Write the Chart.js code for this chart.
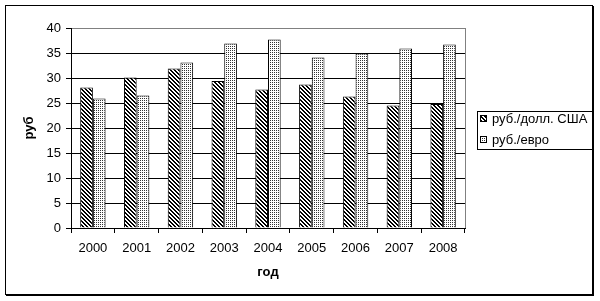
<!DOCTYPE html>
<html>
<head>
<meta charset="utf-8">
<script src="https://cdn.jsdelivr.net/npm/chart.js@4.4.1/dist/chart.umd.min.js"></script>
<style>
    html, body { margin: 0; padding: 0; background: #fff; }
</style>
</head>
<body>
<canvas id="rateChart" width="600" height="301"></canvas>
<script>
// Data
const years = ["2000", "2001", "2002", "2003", "2004", "2005", "2006", "2007", "2008"];
const usdRates = [28.1, 30.1, 31.9, 29.4, 27.7, 28.7, 26.3, 24.5, 24.8];
const euroRates = [25.9, 26.5, 33.1, 36.9, 37.7, 34.1, 34.9, 35.9, 36.7];
const seriesNames = ["руб./долл. США", "руб./евро"];

Chart.defaults.font.family = "'Liberation Sans', Arial, sans-serif";
Chart.defaults.font.size = 13;
Chart.defaults.color = "#000";

// Diagonal hatch, like the old Excel "\\\" fill
function makeHatch() {
    const c = document.createElement("canvas");
    c.width = 4; c.height = 4;
    const g = c.getContext("2d");
    g.fillStyle = "#fff";
    g.fillRect(0, 0, 4, 4);
    g.fillStyle = "#000";
    for (let i = 0; i < 4; i++) {
        g.fillRect(i, i, 2, 1);
    }
    g.fillRect(0, 3, 1, 1);
    return g.createPattern(c, "repeat");
}

// Fine dotted fill
function makeDots() {
    const c = document.createElement("canvas");
    c.width = 2; c.height = 2;
    const g = c.getContext("2d");
    g.fillStyle = "#fff";
    g.fillRect(0, 0, 2, 2);
    g.fillStyle = "#333";
    g.fillRect(0, 0, 1, 1);
    return g.createPattern(c, "repeat");
}

const hatch = makeHatch();
const dots = makeDots();

// Outer frame, gray plot border and the legend box
const decorPlugin = {
    id: "decor",
    afterDraw(chart) {
        const ctx = chart.ctx;
        const area = chart.chartArea;
        ctx.save();

        // right border of the plot area
        ctx.strokeStyle = "#808080";
        ctx.lineWidth = 1;
        ctx.beginPath();
        ctx.moveTo(Math.round(area.right) + 0.5, area.top);
        ctx.lineTo(Math.round(area.right) + 0.5, area.bottom);
        ctx.stroke();

        // legend
        const lx = 477, ly = 111, lh = 38;
        ctx.fillStyle = "#fff";
        ctx.fillRect(lx, ly, 593 - lx, lh);
        ctx.strokeStyle = "#000";
        ctx.strokeRect(lx + 0.5, ly + 0.5, 593 - lx, lh);
        const fills = [hatch, dots];
        ctx.font = "13px 'Liberation Sans', Arial, sans-serif";
        ctx.textBaseline = "middle";
        seriesNames.forEach((name, i) => {
            const cy = 119 + i * 21;
            ctx.fillStyle = fills[i];
            ctx.fillRect(480, cy - 4, 7, 7);
            ctx.strokeStyle = "#000";
            ctx.strokeRect(480.5, cy - 3.5, 6, 6);
            ctx.fillStyle = "#000";
            ctx.fillText(name, 492, cy);
        });

        // outer frame with a small shadow
        ctx.strokeStyle = "#000";
        ctx.lineWidth = 1;
        ctx.strokeRect(5.5, 5.5, 587, 289);
        ctx.beginPath();
        ctx.moveTo(593.5, 6);
        ctx.lineTo(593.5, 296);
        ctx.moveTo(6, 295.5);
        ctx.lineTo(594, 295.5);
        ctx.stroke();
        ctx.restore();
    }
};

new Chart(document.getElementById("rateChart"), {
    type: "bar",
    data: {
        labels: years,
        datasets: [
            {
                label: seriesNames[0],
                data: usdRates,
                backgroundColor: hatch,
                borderColor: "#000",
                borderWidth: 1,
            },
            {
                label: seriesNames[1],
                data: euroRates,
                backgroundColor: dots,
                borderColor: "#000",
                borderWidth: 1,
            },
        ],
    },
    options: {
        responsive: false,
        animation: false,
        categoryPercentage: 0.58,
        barPercentage: 1.0,
        layout: { padding: { left: 8, top: 28, right: 135, bottom: 8 } },
        plugins: {
            legend: { display: false },
            tooltip: { enabled: false },
        },
        scales: {
            x: {
                grid: {
                    offset: true,
                    drawOnChartArea: false,
                    color: "#000",
                    tickLength: 5,
                },
                border: { color: "#000", width: 1 },
                ticks: { padding: 8, maxRotation: 0 },
                title: {
                    display: true,
                    text: "год",
                    font: { weight: "bold", size: 13 },
                    padding: { top: 0, bottom: 13 },
                },
                afterFit: s => { s.height = 65; },
            },
            y: {
                min: 0,
                max: 40,
                ticks: { stepSize: 5, padding: 5 },
                grid: {
                    color: c => (c.tick && c.tick.value === 40 ? "#808080" : "#000"),
                    tickColor: "#000",
                    tickLength: 5,
                },
                border: { color: "#000", width: 1 },
                title: {
                    display: true,
                    text: "руб",
                    font: { weight: "bold", size: 13 },
                    padding: { top: 14, bottom: 0 },
                },
                afterFit: s => { s.width = 63; },
            },
        },
    },
    plugins: [decorPlugin],
});
</script>
</body>
</html>
